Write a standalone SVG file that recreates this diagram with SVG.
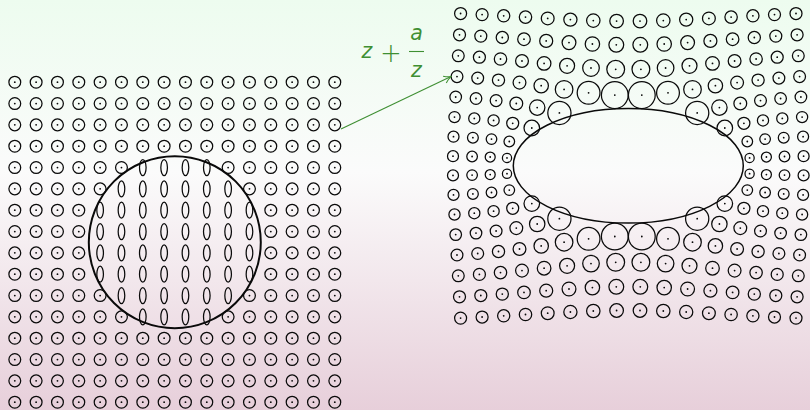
<svg xmlns="http://www.w3.org/2000/svg" xmlns:xlink="http://www.w3.org/1999/xlink" width="810" height="410" viewBox="0 0 810 410">
<style>
.ring{fill:none;stroke:#0a0a0a;stroke-width:1.25}
.dot{fill:#0a0a0a}
.dots{fill:none;stroke:#0a0a0a;stroke-width:1.8;stroke-linecap:round}
.big{fill:none;stroke:#0a0a0a;stroke-width:2}
.ell{fill:none;stroke:#0a0a0a;stroke-width:1.5}
.m{font-family:"DejaVu Sans",sans-serif;font-style:italic;font-size:20.5px;fill:#3f8f33}
.g{stroke:#3f8f33;fill:none;stroke-width:1.1}
</style>
<defs>
<linearGradient id="bg" x1="0" y1="0" x2="0" y2="1">
<stop offset="0" stop-color="#edfcef"/>
<stop offset="0.42" stop-color="#fbfbfb"/>
<stop offset="1" stop-color="#e7cfda"/>
</linearGradient>
<marker id="arr" viewBox="0 0 10 10" refX="9" refY="5" markerWidth="10" markerHeight="10" markerUnits="userSpaceOnUse" orient="auto">
<path d="M2,1.3 Q6,4.2 9,5 Q6,5.8 2,8.7" fill="none" stroke="#3f8f33" stroke-width="1.1"/>
</marker>
<g id="c"><circle class="ring" r="5.9"/><circle class="dot" r="0.9"/></g>
<ellipse id="e" class="ring" rx="3.3" ry="8"/>
<g id="rF"><use href="#c" x="14.8"/><use href="#c" x="36.13"/><use href="#c" x="57.47"/><use href="#c" x="78.8"/><use href="#c" x="100.13"/><use href="#c" x="121.47"/><use href="#c" x="142.8"/><use href="#c" x="164.13"/><use href="#c" x="185.47"/><use href="#c" x="206.8"/><use href="#c" x="228.13"/><use href="#c" x="249.47"/><use href="#c" x="270.8"/><use href="#c" x="292.13"/><use href="#c" x="313.47"/><use href="#c" x="334.8"/></g>
<g id="rA"><use href="#c" x="14.8"/><use href="#c" x="36.13"/><use href="#c" x="57.47"/><use href="#c" x="78.8"/><use href="#c" x="100.13"/><use href="#c" x="121.47"/><use href="#e" x="142.8"/><use href="#e" x="164.13"/><use href="#e" x="185.47"/><use href="#e" x="206.8"/><use href="#c" x="228.13"/><use href="#c" x="249.47"/><use href="#c" x="270.8"/><use href="#c" x="292.13"/><use href="#c" x="313.47"/><use href="#c" x="334.8"/></g>
<g id="rB"><use href="#c" x="14.8"/><use href="#c" x="36.13"/><use href="#c" x="57.47"/><use href="#c" x="78.8"/><use href="#c" x="100.13"/><use href="#e" x="121.47"/><use href="#e" x="142.8"/><use href="#e" x="164.13"/><use href="#e" x="185.47"/><use href="#e" x="206.8"/><use href="#e" x="228.13"/><use href="#c" x="249.47"/><use href="#c" x="270.8"/><use href="#c" x="292.13"/><use href="#c" x="313.47"/><use href="#c" x="334.8"/></g>
<g id="rC"><use href="#c" x="14.8"/><use href="#c" x="36.13"/><use href="#c" x="57.47"/><use href="#c" x="78.8"/><use href="#e" x="100.13"/><use href="#e" x="121.47"/><use href="#e" x="142.8"/><use href="#e" x="164.13"/><use href="#e" x="185.47"/><use href="#e" x="206.8"/><use href="#e" x="228.13"/><use href="#e" x="249.47"/><use href="#c" x="270.8"/><use href="#c" x="292.13"/><use href="#c" x="313.47"/><use href="#c" x="334.8"/></g>
<g id="Q">
<g class="ring">
<circle cx="121.3" cy="-7.9" r="4.6"/><circle cx="138.1" cy="-8.8" r="5.0"/><circle cx="156.2" cy="-9.3" r="5.3"/><circle cx="175.3" cy="-9.6" r="5.5"/>
<circle cx="119.0" cy="-24.3" r="5.3"/><circle cx="136.8" cy="-26.7" r="5.3"/><circle cx="155.4" cy="-28.1" r="5.4"/><circle cx="174.8" cy="-29.1" r="5.5"/>
<circle cx="96.5" cy="-37.8" r="7.8"/><circle cx="115.6" cy="-42.5" r="6.0"/><circle cx="134.7" cy="-45.4" r="5.6"/><circle cx="154.0" cy="-47.4" r="5.6"/><circle cx="173.8" cy="-48.7" r="5.6"/>
<circle cx="68.9" cy="-52.9" r="11.6"/><circle cx="91.1" cy="-58.2" r="7.7"/><circle cx="112.0" cy="-62.3" r="6.4"/><circle cx="132.2" cy="-65.2" r="5.9"/><circle cx="152.3" cy="-67.3" r="5.8"/><circle cx="172.6" cy="-68.8" r="5.8"/>
<circle cx="13.5" cy="-70.7" r="13.4"/><circle cx="39.7" cy="-73.0" r="11.4"/><circle cx="64.2" cy="-76.4" r="8.8"/><circle cx="87.1" cy="-80.1" r="7.2"/><circle cx="108.8" cy="-83.2" r="6.4"/><circle cx="129.8" cy="-85.7" r="6.1"/><circle cx="150.6" cy="-87.7" r="5.9"/><circle cx="171.3" cy="-89.2" r="5.9"/>
<circle cx="12.6" cy="-96.5" r="8.9"/><circle cx="37.3" cy="-97.8" r="8.3"/><circle cx="61.2" cy="-100.0" r="7.5"/><circle cx="84.2" cy="-102.4" r="6.8"/><circle cx="106.3" cy="-104.8" r="6.4"/><circle cx="127.8" cy="-106.8" r="6.2"/><circle cx="148.9" cy="-108.6" r="6.0"/><circle cx="170.0" cy="-110.0" r="5.9"/>
<circle cx="12.0" cy="-121.0" r="7.4"/><circle cx="35.9" cy="-121.8" r="7.2"/><circle cx="59.3" cy="-123.2" r="6.9"/><circle cx="82.1" cy="-124.9" r="6.5"/><circle cx="104.3" cy="-126.6" r="6.3"/><circle cx="126.0" cy="-128.3" r="6.1"/><circle cx="147.5" cy="-129.7" r="6.0"/><circle cx="168.8" cy="-131.0" r="6.0"/>
<circle cx="11.7" cy="-144.7" r="6.8"/><circle cx="35.0" cy="-145.2" r="6.7"/><circle cx="57.9" cy="-146.2" r="6.6"/><circle cx="80.6" cy="-147.4" r="6.4"/><circle cx="102.8" cy="-148.7" r="6.2"/><circle cx="124.6" cy="-150.0" r="6.1"/><circle cx="146.2" cy="-151.2" r="6.0"/><circle cx="167.7" cy="-152.3" r="6.0"/>
</g>
<path class="dots" d="M121.3 -7.9h.01M138.1 -8.8h.01M156.2 -9.3h.01M175.3 -9.6h.01M119.0 -24.3h.01M136.8 -26.7h.01M155.4 -28.1h.01M174.8 -29.1h.01M96.5 -37.8h.01M115.6 -42.5h.01M134.7 -45.4h.01M154.0 -47.4h.01M173.8 -48.7h.01M68.9 -52.9h.01M91.1 -58.2h.01M112.0 -62.3h.01M132.2 -65.2h.01M152.3 -67.3h.01M172.6 -68.8h.01M13.5 -70.7h.01M39.7 -73.0h.01M64.2 -76.4h.01M87.1 -80.1h.01M108.8 -83.2h.01M129.8 -85.7h.01M150.6 -87.7h.01M171.3 -89.2h.01M12.6 -96.5h.01M37.3 -97.8h.01M61.2 -100.0h.01M84.2 -102.4h.01M106.3 -104.8h.01M127.8 -106.8h.01M148.9 -108.6h.01M170.0 -110.0h.01M12.0 -121.0h.01M35.9 -121.8h.01M59.3 -123.2h.01M82.1 -124.9h.01M104.3 -126.6h.01M126.0 -128.3h.01M147.5 -129.7h.01M168.8 -131.0h.01M11.7 -144.7h.01M35.0 -145.2h.01M57.9 -146.2h.01M80.6 -147.4h.01M102.8 -148.7h.01M124.6 -150.0h.01M146.2 -151.2h.01M167.7 -152.3h.01"/>
</g>
</defs>
<rect width="810" height="410" fill="url(#bg)"/>
<g id="left-grid">
<use href="#rF" y="82.2"/><use href="#rF" y="103.53"/><use href="#rF" y="124.87"/><use href="#rF" y="146.2"/>
<use href="#rA" y="167.53"/><use href="#rB" y="188.87"/>
<use href="#rC" y="210.2"/><use href="#rC" y="231.53"/><use href="#rC" y="252.87"/><use href="#rC" y="274.2"/>
<use href="#rB" y="295.53"/><use href="#rA" y="316.87"/>
<use href="#rF" y="338.2"/><use href="#rF" y="359.53"/><use href="#rF" y="380.87"/><use href="#rF" y="402.2"/>
</g>
<g id="left-circle"><circle class="big" cx="174.8" cy="242.2" r="86"/></g>
<g id="right-grid">
<use href="#Q" transform="translate(628.3 165.8)"/>
<use href="#Q" transform="translate(628.3 165.8) scale(-1 1)"/>
<use href="#Q" transform="translate(628.3 165.8) scale(1 -1)"/>
<use href="#Q" transform="translate(628.3 165.8) scale(-1 -1)"/>
</g>
<g id="right-ellipse"><ellipse class="ell" cx="628.3" cy="165.8" rx="115" ry="57.3"/></g>
<g id="connectors">
<line class="g" x1="341" y1="129" x2="451" y2="76.6" marker-end="url(#arr)"/>
</g>
<g id="label">
<text class="m" x="361.5" y="58">z</text>
<text x="391" y="61.5" text-anchor="middle" style="font-family:'DejaVu Sans',sans-serif;font-weight:300;font-size:26px;fill:#3f8f33">+</text>
<text class="m" x="416.5" y="40" text-anchor="middle">a</text>
<line class="g" x1="409" y1="51.5" x2="424" y2="51.5"/>
<text class="m" x="416.5" y="77" text-anchor="middle">z</text>
</g>
</svg>
